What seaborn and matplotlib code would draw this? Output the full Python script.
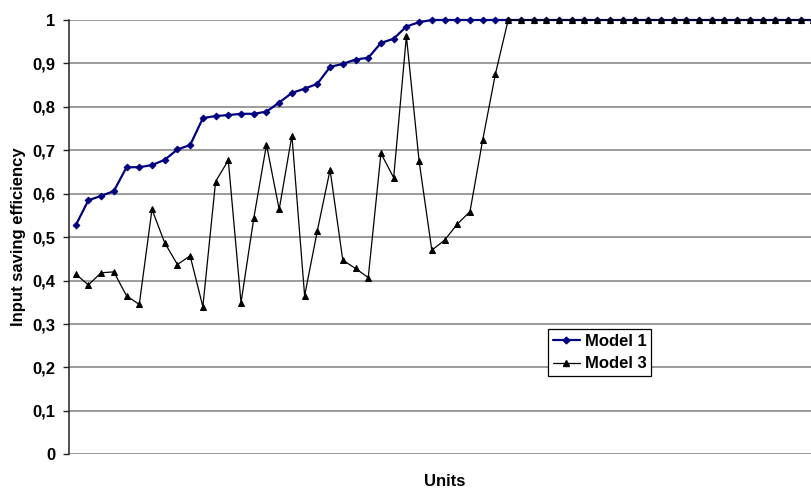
import matplotlib
matplotlib.use("Agg")
import matplotlib.pyplot as plt
import pandas as pd
import seaborn as sns
from matplotlib.lines import Line2D

# Efficiency scores per decision-making unit
model1 = [0.527, 0.585, 0.595, 0.606, 0.661, 0.661, 0.666, 0.678, 0.702, 0.712,
          0.774, 0.779, 0.781, 0.784, 0.784, 0.789, 0.810, 0.832, 0.842, 0.853,
          0.892, 0.899, 0.909, 0.913, 0.947, 0.957, 0.985, 0.995, 1.000, 1.000,
          1.000, 1.000, 1.000, 1.000, 1.000, 1.000, 1.000, 1.000, 1.000, 1.000,
          1.000, 1.000, 1.000, 1.000, 1.000, 1.000, 1.000, 1.000, 1.000, 1.000,
          1.000, 1.000, 1.000, 1.000, 1.000, 1.000, 1.000, 1.000, 1.000]
model3 = [0.415, 0.390, 0.418, 0.420, 0.365, 0.345, 0.564, 0.487, 0.437, 0.457,
          0.340, 0.628, 0.677, 0.349, 0.543, 0.713, 0.564, 0.734, 0.365, 0.515,
          0.655, 0.447, 0.428, 0.407, 0.693, 0.637, 0.963, 0.675, 0.470, 0.493,
          0.530, 0.559, 0.724, 0.876, 1.000, 1.000, 1.000, 1.000, 1.000, 1.000,
          1.000, 1.000, 1.000, 1.000, 1.000, 1.000, 1.000, 1.000, 1.000, 1.000,
          1.000, 1.000, 1.000, 1.000, 1.000, 1.000, 1.000, 1.000, 1.000]
units = list(range(1, len(model1) + 1))
y_ticks = [0.0, 0.1, 0.2, 0.3, 0.4, 0.5, 0.6, 0.7, 0.8, 0.9, 1.0]
y_tick_labels = ["0", "0,1", "0,2", "0,3", "0,4", "0,5", "0,6", "0,7", "0,8", "0,9", "1"]

df = pd.DataFrame({"Unit": units, "Model 1": model1, "Model 3": model3})

sns.set_style("white")
plt.rcParams["font.family"] = ["Liberation Sans", "DejaVu Sans"]
plt.rcParams["font.weight"] = "bold"
plt.rcParams["text.color"] = "black"
plt.rcParams["axes.labelcolor"] = "black"
plt.rcParams["ytick.color"] = "black"

W, H = 812, 490
fig = plt.figure(figsize=(W / 100, H / 100), dpi=100)
left_px, right_px, top_px, bottom_px = 69.3, 819.8, 20.0, 454.3
ax = fig.add_axes([left_px / W, 1 - bottom_px / H,
                   (right_px - left_px) / W, (bottom_px - top_px) / H])

grid_color = "#808080"
for yv in y_ticks:
    ax.axhline(yv, color=grid_color, lw=1.1, zorder=1)

navy = "#000080"
sns.lineplot(data=df, x="Unit", y="Model 1", ax=ax, color=navy, lw=1.6,
             marker="D", markersize=3.4, markeredgecolor=navy, markerfacecolor=navy,
             clip_on=False, zorder=3)
sns.lineplot(data=df, x="Unit", y="Model 3", ax=ax, color="black", lw=0.9,
             marker="^", markersize=4.5, markeredgecolor="black", markerfacecolor="black",
             clip_on=False, zorder=4)

ax.set_xlim(0.5, len(units) + 0.5)
ax.set_ylim(0, 1)
ax.set_xticks([])
ax.set_yticks(y_ticks)
ax.set_yticklabels(y_tick_labels, fontsize=12, fontweight="bold", color="black")
ax.tick_params(axis="y", direction="out", length=4, width=1, color="#222222",
               pad=6, left=True)

for side in ["top", "right", "bottom"]:
    ax.spines[side].set_visible(False)
ax.spines["left"].set_color("#222222")
ax.spines["left"].set_linewidth(1.1)
ax.spines["left"].set_zorder(5)

ax.set_xlabel("Units", fontsize=12, fontweight="bold", labelpad=14, color="black")
ax.set_ylabel("Input saving efficiency", fontsize=12, fontweight="bold",
              labelpad=4.5, color="black")

handles = [
    Line2D([], [], color=navy, lw=1.6, marker="D", markersize=3.4,
           markerfacecolor=navy, markeredgecolor=navy),
    Line2D([], [], color="black", lw=0.9, marker="^", markersize=4.5,
           markerfacecolor="black", markeredgecolor="black"),
]
leg = ax.legend(handles, ["Model 1", "Model 3"], loc="upper left",
                bbox_to_anchor=(548 / W, 1 - 329 / H), bbox_transform=fig.transFigure,
                frameon=True, fancybox=False, shadow=False, framealpha=1,
                edgecolor="black", borderpad=0.3, handlelength=1.6,
                handletextpad=0.3, labelspacing=0.45, borderaxespad=0,
                prop={"size": 12, "weight": "bold"})
leg.get_frame().set_linewidth(0.9)
leg.set_zorder(6)
for txt in leg.get_texts():
    txt.set_color("black")

fig.savefig("out.png", dpi=100)
